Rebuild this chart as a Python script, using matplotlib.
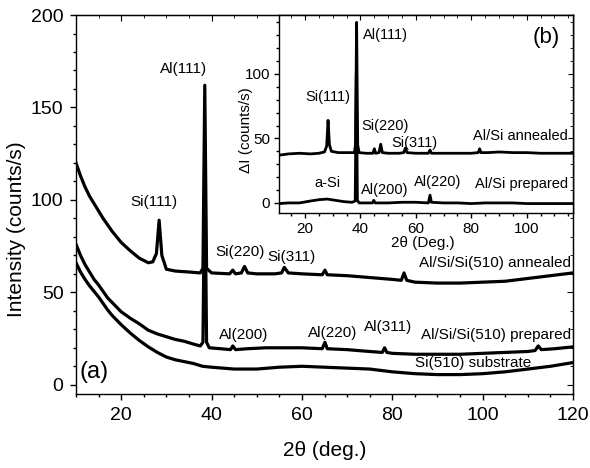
import matplotlib.pyplot as plt
from matplotlib.ticker import MultipleLocator

plt.rcParams['font.family'] = ['Liberation Sans', 'DejaVu Sans']

# main panel (a): XRD scans
ann_x = [10, 11, 12, 13, 14, 15, 16, 17, 18, 19, 20, 22, 24, 26, 27, 27.8, 28.4, 29, 30, 32,
         35, 37.5, 38.1, 38.5, 38.9, 40, 44, 44.7, 45.3, 46.6, 47.3, 48, 50, 54, 55.5, 56.1,
         57, 60, 64.5, 65.1, 65.6, 70, 75, 80, 82, 82.6, 83.2, 85, 90, 95, 100, 105, 110, 115, 120]
ann_y = [120, 113, 107, 102, 98, 94, 90, 86.5, 83, 80, 77, 72.5, 68.5, 66, 66.5, 71, 89, 70, 62.5, 61.5,
         61, 60.5, 63, 162, 63, 60.5, 60, 62, 60, 60.5, 64, 60.5, 60, 60, 60.5, 63.5,
         60.5, 60, 59.5, 62, 59.5, 59, 58, 57, 56.5, 60.5, 56.5, 55.5, 55, 55, 55.5, 56, 57.5, 59, 60.5]

prep_x = [10, 11, 12, 13, 14, 15, 16, 17, 18, 19, 20, 22, 24, 26, 28, 30, 32, 34, 36, 37.5,
          38.1, 38.5, 38.9, 39.5, 42, 44.2, 44.7, 45.3, 48, 52, 56, 60, 64.5, 65.1, 65.6, 70,
          75, 77.8, 78.3, 78.8, 80, 85, 90, 95, 100, 105, 110, 111.6, 112.3, 113, 116, 120]
prep_y = [76, 70, 65, 61, 57, 54, 50.5, 47, 44.5, 42, 39.5, 36, 33, 29.5, 27.5, 26, 24.5, 23.5, 22, 21,
          23, 120, 23, 20, 19.5, 19, 21, 19, 19.5, 20, 20, 20, 19.5, 23, 19.5, 19,
          18, 17.5, 20, 17.5, 17, 16.5, 16.5, 16.5, 17, 17.5, 18, 18.5, 21, 19, 19.5, 20.5]

sub_x = [10, 11, 12, 13, 14, 15, 16, 17, 18, 19, 20, 22, 24, 26, 28, 30, 32, 34, 36, 38, 40,
         45, 50, 55, 60, 65, 70, 75, 80, 85, 90, 95, 100, 105, 110, 115, 120]
sub_y = [66, 61, 57, 53.5, 50.5, 47.5, 44, 40.5, 37.5, 35, 32.5, 28, 24, 20.5, 17.5, 15, 13.5, 12.5, 11.5, 10, 9.5,
         8.5, 8.5, 9.5, 10, 9.5, 9, 8.5, 7, 6, 5.5, 5.5, 6, 7, 8.5, 10, 12]

# inset panel (b): difference curves
ins_ann_x = [10.6, 14, 18, 22, 25, 27, 27.8, 28.3, 28.8, 29.5, 32, 35, 37.8, 38.2, 38.6, 39.0, 39.5, 42,
             44.5, 45, 45.5, 46.7, 47.3, 47.9, 50, 54, 55.6, 56.2, 56.8, 60, 64.5, 65.1, 65.6, 70,
             75, 80, 82.5, 83, 83.5, 86, 90, 95, 100, 105, 110, 116.7]
ins_ann_y = [37, 38, 38.5, 38, 38.5, 39.5, 44, 64, 45, 40, 39, 39, 39, 45, 140, 45, 39, 38.5,
             38.5, 42, 38.5, 39, 45.5, 39, 38.5, 38.5, 39, 42.5, 39, 38.5, 38.5, 41, 38.5, 38.5,
             38.5, 38.5, 39, 42, 39, 39, 39.5, 39, 39, 38.5, 38.5, 38.5]

ins_prep_x = [10.6, 14, 18, 22, 25, 28, 31, 34, 37, 38.1, 38.5, 38.9, 39.5, 42, 44.3, 44.8, 45.3, 50,
              55, 60, 64.5, 65.1, 65.6, 70, 75, 80, 85, 90, 95, 100, 105, 110, 116.7]
ins_prep_y = [-0.5, 0, 0, 1.5, 2.5, 3, 2, 1, 0.5, 1.5, 100, 2, 0, 0, 0, 2, 0, 0,
              0.5, 0.5, 0, 6, 0.5, 0, 0, -0.5, 0, 0, 0, -0.5, -0.5, -0.5, -0.5]

fig = plt.figure(figsize=(5.9, 4.68), dpi=100)
ax = fig.add_axes([0.1288, 0.1581, 0.8424, 0.8098])
ax.plot(ann_x, ann_y, color='black', lw=2.3)
ax.plot(prep_x, prep_y, color='black', lw=2.3)
ax.plot(sub_x, sub_y, color='black', lw=2.3)
ax.set_xlim(10, 120)
ax.set_ylim(-5, 200)
ax.xaxis.set_major_locator(MultipleLocator(20))
ax.xaxis.set_minor_locator(MultipleLocator(5))
ax.yaxis.set_major_locator(MultipleLocator(50))
ax.yaxis.set_minor_locator(MultipleLocator(10))
ax.tick_params(which='major', direction='out', length=4, width=1, labelsize=14, pad=5)
ax.tick_params(which='minor', direction='out', length=2.5, width=1)
for s in ax.spines.values():
    s.set_linewidth(1.0)
ax.set_xlabel('2θ (deg.)', fontsize=15)
ax.set_ylabel('Intensity (counts/s)', fontsize=15)
ax.xaxis.set_label_coords(0.5, -0.125)
ax.yaxis.set_label_coords(-0.1, 0.435)

# mirrored inward ticks on top and right
top = ax.secondary_xaxis('top')
top.xaxis.set_major_locator(MultipleLocator(20))
top.xaxis.set_minor_locator(MultipleLocator(5))
top.tick_params(which='major', direction='in', length=4, labeltop=False)
top.tick_params(which='minor', direction='in', length=2.5)
right = ax.secondary_yaxis('right')
right.yaxis.set_major_locator(MultipleLocator(50))
right.yaxis.set_minor_locator(MultipleLocator(10))
right.tick_params(which='major', direction='in', length=4, labelright=False)
right.tick_params(which='minor', direction='in', length=2.5)

fs = 11
ax.text(27.2, 99, 'Si(111)', fontsize=fs, ha='center', va='center')
ax.text(33.7, 171, 'Al(111)', fontsize=fs, ha='center', va='center')
ax.text(46.2, 72, 'Si(220)', fontsize=fs, ha='center', va='center')
ax.text(57.8, 69, 'Si(311)', fontsize=fs, ha='center', va='center')
ax.text(47, 27, 'Al(200)', fontsize=fs, ha='center', va='center')
ax.text(66.7, 28, 'Al(220)', fontsize=fs, ha='center', va='center')
ax.text(79, 31, 'Al(311)', fontsize=fs, ha='center', va='center')
ax.text(119.6, 66, 'Al/Si/Si(510) annealed', fontsize=fs, ha='right', va='center')
ax.text(119.6, 27, 'Al/Si/Si(510) prepared', fontsize=fs, ha='right', va='center')
ax.text(98, 12, 'Si(510) substrate', fontsize=fs, ha='center', va='center')
ax.text(14, 7, '(a)', fontsize=17, ha='center', va='center')

# inset
ins = fig.add_axes([0.4729, 0.5449, 0.4983, 0.4231])
ins.plot(ins_ann_x, ins_ann_y, color='black', lw=2.0)
ins.plot(ins_prep_x, ins_prep_y, color='black', lw=2.0)
ins.set_xlim(10.6, 116.7)
ins.set_ylim(-7.8, 145.7)
ins.xaxis.set_major_locator(MultipleLocator(20))
ins.xaxis.set_minor_locator(MultipleLocator(5))
ins.yaxis.set_major_locator(MultipleLocator(50))
ins.yaxis.set_minor_locator(MultipleLocator(10))
ins.tick_params(which='major', direction='out', length=3.5, width=1, labelsize=11, pad=3)
ins.tick_params(which='minor', direction='out', length=2, width=1)
for s in ins.spines.values():
    s.set_linewidth(1.0)
ins.set_xlabel('2θ (Deg.)', fontsize=11)
ins.set_ylabel('ΔI (counts/s)', fontsize=11)
ins.xaxis.set_label_coords(0.49, -0.115)
ins.yaxis.set_label_coords(-0.088, 0.42)

itop = ins.secondary_xaxis('top')
itop.xaxis.set_major_locator(MultipleLocator(20))
itop.xaxis.set_minor_locator(MultipleLocator(5))
itop.tick_params(which='major', direction='in', length=3.5, labeltop=False)
itop.tick_params(which='minor', direction='in', length=2)
iright = ins.secondary_yaxis('right')
iright.yaxis.set_major_locator(MultipleLocator(50))
iright.yaxis.set_minor_locator(MultipleLocator(10))
iright.tick_params(which='major', direction='in', length=3.5, labelright=False)
iright.tick_params(which='minor', direction='in', length=2)

ifs = 10.5
ins.text(41, 130, 'Al(111)', fontsize=ifs, ha='left', va='center')
ins.text(107, 128.6, '(b)', fontsize=16, ha='center', va='center')
ins.text(28.2, 82, 'Si(111)', fontsize=ifs, ha='center', va='center')
ins.text(48.7, 60, 'Si(220)', fontsize=ifs, ha='center', va='center')
ins.text(59.6, 46.5, 'Si(311)', fontsize=ifs, ha='center', va='center')
ins.text(115, 52, 'Al/Si annealed', fontsize=ifs, ha='right', va='center')
ins.text(27.9, 15.5, 'a-Si', fontsize=ifs, ha='center', va='center')
ins.text(48.7, 10, 'Al(200)', fontsize=ifs, ha='center', va='center')
ins.text(68, 16.5, 'Al(220)', fontsize=ifs, ha='center', va='center')
ins.text(115, 14.7, 'Al/Si prepared', fontsize=ifs, ha='right', va='center')

fig.savefig('out.png', dpi=100)
